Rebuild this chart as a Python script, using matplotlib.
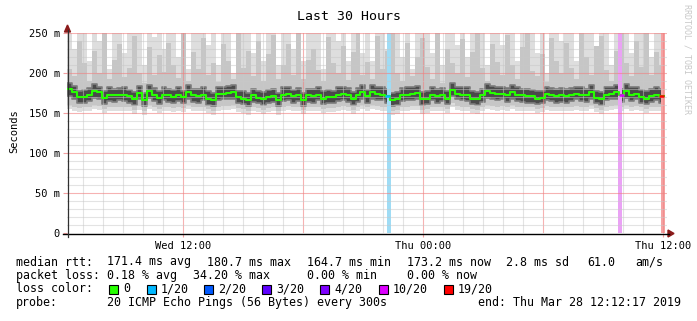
import matplotlib
matplotlib.use('Agg')
import matplotlib.pyplot as plt
import numpy as np
from matplotlib.patches import Polygon, Rectangle
from matplotlib.lines import Line2D

W, H = 697, 321

# time axis in hours since Wed 00:00; data window Wed 06:12:17 .. Thu 12:12:17
t_start = 6.2047
t_end = 36.2047
t_data_end = 36.05

# 15-minute summaries (ms)
median_rtt = [180, 176, 170, 170, 173, 177, 176, 169, 173, 172, 173, 173, 171, 168, 175, 166, 177, 173, 169, 173,
              172, 170, 173, 170, 176, 172, 171, 173, 168, 166, 174, 174, 175, 176, 170, 168, 166, 172, 169, 167,
              170, 171, 166, 173, 174, 171, 172, 166, 172, 171, 173, 168, 170, 170, 173, 174, 172, 167, 172, 176,
              171, 176, 174, 173, 171, 166, 167, 173, 173, 174, 175, 167, 168, 173, 171, 172, 168, 179, 174, 173,
              173, 168, 167, 172, 177, 175, 174, 174, 172, 176, 173, 172, 171, 171, 168, 169, 174, 173, 171, 172,
              171, 172, 174, 173, 172, 176, 169, 167, 173, 174, 176, 172, 177, 173, 174, 170, 168, 171, 173, 171]

max_rtt = [255, 230, 260, 260, 215, 260, 240, 260, 205, 260, 260, 225, 260, 260, 260, 210, 260, 245, 260, 230,
           260, 260, 220, 260, 205, 260, 260, 260, 235, 260, 210, 260, 260, 200, 260, 260, 260, 225, 260, 215,
           260, 260, 210, 260, 260, 230, 260, 215, 260, 260, 260, 205, 260, 260, 240, 260, 215, 260, 260, 225,
           260, 215, 260, 260, 230, 260, 260, 220, 260, 205, 260, 260, 260, 225, 260, 210, 260, 260, 235, 260,
           220, 260, 260, 260, 210, 260, 260, 235, 260, 260, 215, 260, 260, 260, 225, 260, 200, 260, 260, 240,
           260, 260, 215, 260, 260, 260, 230, 260, 260, 210, 260, 260, 260, 225, 260, 260, 260, 220, 260, 260]

upper_rtt = [205, 196, 240, 212, 190, 228, 200, 250, 192, 216, 236, 195, 206, 246, 200, 188, 232, 197, 222, 201,
             238, 210, 194, 250, 190, 226, 205, 244, 198, 212, 189, 236, 215, 192, 250, 206, 228, 196, 240, 190,
             224, 248, 193, 210, 236, 198, 250, 192, 216, 230, 204, 190, 245, 212, 200, 234, 191, 226, 250, 198,
             214, 192, 246, 205, 228, 250, 200, 190, 238, 196, 220, 244, 207, 193, 250, 188, 230, 212, 200, 242,
             195, 226, 250, 206, 190, 236, 214, 198, 248, 210, 192, 232, 250, 203, 196, 224, 189, 244, 215, 200,
             238, 206, 192, 250, 220, 197, 234, 246, 204, 190, 228, 250, 212, 196, 240, 208, 250, 198, 226, 210]

lower_rtt = [160, 158, 156, 157, 158, 160, 159, 155, 158, 157, 158, 158, 157, 154, 159, 153, 160, 158, 155, 158,
             157, 156, 158, 156, 160, 157, 157, 158, 155, 153, 158, 159, 159, 160, 156, 155, 153, 157, 156, 154,
             156, 157, 153, 158, 159, 157, 158, 154, 157, 157, 158, 155, 156, 156, 158, 159, 157, 154, 157, 160,
             157, 160, 159, 158, 157, 153, 154, 158, 158, 159, 159, 154, 155, 158, 157, 158, 155, 162, 159, 158,
             158, 155, 154, 157, 160, 159, 158, 159, 157, 160, 158, 157, 157, 157, 155, 156, 159, 158, 157, 157,
             157, 158, 159, 158, 157, 160, 156, 154, 158, 159, 160, 157, 160, 158, 159, 157, 155, 157, 158, 157]

min_rtt = [155, 153, 151, 152, 153, 155, 154, 150, 153, 152, 153, 153, 152, 149, 154, 148, 155, 153, 150, 153,
           152, 151, 153, 151, 155, 152, 152, 153, 150, 148, 153, 154, 154, 155, 151, 150, 148, 152, 151, 149,
           151, 152, 148, 153, 154, 152, 153, 149, 152, 152, 153, 150, 151, 151, 153, 154, 152, 149, 152, 155,
           152, 155, 154, 153, 152, 148, 149, 153, 153, 154, 154, 149, 150, 153, 152, 153, 150, 157, 154, 153,
           153, 150, 149, 152, 155, 154, 153, 154, 152, 155, 153, 152, 152, 152, 150, 151, 154, 153, 152, 152,
           152, 153, 154, 153, 152, 155, 151, 149, 153, 154, 155, 152, 155, 153, 154, 152, 150, 152, 153, 152]

core_hi = [188, 184, 178, 179, 181, 186, 183, 177, 182, 180, 181, 182, 179, 176, 184, 175, 185, 181, 178, 182,
           180, 179, 182, 178, 185, 180, 180, 182, 177, 175, 182, 183, 184, 185, 178, 177, 175, 180, 178, 176,
           179, 180, 175, 182, 183, 179, 181, 175, 180, 180, 182, 177, 179, 178, 182, 183, 181, 176, 181, 185,
           179, 185, 183, 182, 180, 175, 176, 181, 182, 183, 184, 176, 177, 182, 180, 181, 177, 188, 183, 182,
           182, 177, 176, 180, 186, 184, 182, 183, 181, 185, 182, 180, 180, 179, 177, 178, 183, 181, 180, 181,
           180, 181, 183, 182, 180, 185, 178, 176, 182, 183, 185, 180, 186, 182, 183, 179, 177, 180, 182, 180]

core_lo = [171, 168, 163, 162, 165, 169, 168, 161, 165, 164, 166, 165, 163, 160, 167, 159, 169, 165, 161, 166,
           164, 162, 165, 163, 168, 164, 163, 166, 160, 159, 166, 167, 167, 168, 162, 161, 159, 164, 162, 160,
           162, 164, 159, 165, 166, 163, 165, 159, 164, 163, 166, 161, 162, 163, 165, 166, 164, 160, 164, 168,
           163, 168, 166, 166, 163, 159, 160, 165, 166, 166, 167, 160, 161, 166, 163, 165, 161, 171, 167, 166,
           165, 161, 160, 164, 169, 168, 166, 167, 164, 168, 165, 164, 163, 163, 161, 162, 166, 165, 163, 164,
           163, 165, 167, 165, 164, 168, 162, 160, 166, 167, 168, 164, 169, 165, 167, 163, 161, 164, 166, 163]

# loss events (hour, lost pings out of 20)
loss_times = [22.3, 33.85, 36.0]
loss_levels = ['1/20', '10/20', '19/20']

loss_labels = ['0', '1/20', '2/20', '3/20', '4/20', '10/20', '19/20']
loss_colors = ['#26ff00', '#00b8ff', '#0059ff', '#5e00ff', '#7e00ff', '#dd00ff', '#ff0000']
loss_bar_colors = {'1/20': '#9fdcf5', '10/20': '#eaa2f5', '19/20': '#f5a3a3'}

fig = plt.figure(figsize=(W / 100, H / 100), dpi=100)
fig.patch.set_facecolor('white')
ax = fig.add_axes([67 / W, 1 - 233 / H, 600 / W, 200 / H])
ax.set_facecolor('white')

n = len(median_rtt)
t = np.linspace(t_start, t_data_end, n + 1)


def ext(a):
    a = np.asarray(a, dtype=float)
    return np.append(a, a[-1])


# smoke: outer pings light, inner pings darker
ax.fill_between(t, ext(min_rtt), ext(max_rtt), step='post', color='#dedede', lw=0, zorder=1)
ax.fill_between(t, ext(lower_rtt), ext(upper_rtt), step='post', color='#c6c6c6', lw=0, zorder=2)
ax.fill_between(t, ext(core_lo), ext(core_hi), step='post', color='#4a4a4a', lw=0, zorder=3)
ax.fill_between(t, ext(core_lo), ext(core_hi), step='post', facecolor='none', edgecolor='#7c7c7c',
                lw=1.2, zorder=3)

# loss bars
for lt, lv in zip(loss_times, loss_levels):
    ax.axvspan(lt - 0.085, lt + 0.085, color=loss_bar_colors[lv], lw=0, zorder=4)

ax.step(t, ext(median_rtt), where='post', color='#26ff00', lw=1.5, zorder=6)
for lt, lv in zip(loss_times, loss_levels):
    i = min(int((lt - t_start) / (t[1] - t[0])), n - 1)
    ax.plot([t[i], t[i + 1]], [median_rtt[i], median_rtt[i]], color=loss_colors[loss_labels.index(lv)],
            lw=1.8, zorder=7, solid_capstyle='butt')

ax.set_xlim(t_start, t_end)
ax.set_ylim(0, 250)

# grid (rrdtool draws it over the graph)
for h in np.arange(7, 37):
    major = h % 6 == 0
    ax.axvline(h, color='#f08080' if major else '#c8c8c8', lw=0.8, alpha=0.6 if major else 0.5, zorder=5)
for v in np.arange(10, 251, 10):
    major = v % 50 == 0
    ax.axhline(v, color='#f08080' if major else '#c8c8c8', lw=0.8, alpha=0.6 if major else 0.5, zorder=5)

for s in ax.spines.values():
    s.set_visible(False)

mono = 'DejaVu Sans Mono'
ax.set_yticks([0, 50, 100, 150, 200, 250])
ax.set_yticklabels(['0', '50 m', '100 m', '150 m', '200 m', '250 m'], family=mono, fontsize=7.5)
ax.set_xticks([12, 24, 36])
ax.set_xticklabels(['Wed 12:00', 'Thu 00:00', 'Thu 12:00'], family=mono, fontsize=7.5)
ax.tick_params(axis='both', length=3, width=0.8, color='#f4a0a0', pad=2)
ax.tick_params(axis='x', pad=3)

# axis lines with arrows
fx = lambda x: x / W
fy = lambda y: 1 - y / H
fig.add_artist(Line2D([fx(63), fx(669)], [fy(233.5), fy(233.5)], color='black', lw=1))
fig.add_artist(Line2D([fx(67.5), fx(67.5)], [fy(237), fy(30)], color='#303030', lw=0.9))
fig.add_artist(Polygon([[fx(668), fy(230)], [fx(674), fy(233.5)], [fx(668), fy(237)]],
                       closed=True, color='#8b1a1a', transform=fig.transFigure))
fig.add_artist(Polygon([[fx(64.5), fy(32)], [fx(67.5), fy(25)], [fx(70.5), fy(32)]],
                       closed=True, color='#8b1a1a', transform=fig.transFigure))

fig.text(fx(349), fy(16), 'Last 30 Hours', family=mono, fontsize=9.5, ha='center', va='center')
fig.text(fx(14), fy(131), 'Seconds', family=mono, fontsize=7.5, rotation=90, ha='center', va='center')
fig.text(fx(687), fy(4), 'RRDTOOL / TOBI OETIKER', family=mono, fontsize=6.0, rotation=270,
         ha='center', va='top', color='#c8c8c8')

# legend block
fs = 8.4
rows = [262, 275.5, 289, 302.5]
pieces = [
    (16, rows[0], 'median rtt:'), (107, rows[0], '171.4 ms avg'), (207, rows[0], '180.7 ms max'),
    (307, rows[0], '164.7 ms min'), (407, rows[0], '173.2 ms now'), (506, rows[0], '2.8 ms sd'),
    (587, rows[0], '61.0'), (635, rows[0], 'am/s'),
    (16, rows[1], 'packet loss:'), (107, rows[1], '0.18 % avg'), (193, rows[1], '34.20 % max'),
    (307, rows[1], '0.00 % min'), (407, rows[1], '0.00 % now'),
    (16, rows[2], 'loss color:'),
    (16, rows[3], 'probe:'), (107, rows[3], '20 ICMP Echo Pings (56 Bytes) every 300s'),
    (478, rows[3], 'end: Thu Mar 28 12:12:17 2019'),
]
for x, y, s in pieces:
    fig.text(fx(x), fy(y), s, family=mono, fontsize=fs, ha='left', va='center')

sq_x = [109, 147, 204, 262, 320, 379, 444]
for x, lab, c in zip(sq_x, loss_labels, loss_colors):
    fig.add_artist(Rectangle((fx(x), fy(rows[2] + 4.5)), 9 / W, 9 / H, facecolor=c, edgecolor='black',
                             lw=0.8, transform=fig.transFigure))
    fig.text(fx(x + 14), fy(rows[2]), lab, family=mono, fontsize=fs, ha='left', va='center')

fig.savefig('out.png', dpi=100)
